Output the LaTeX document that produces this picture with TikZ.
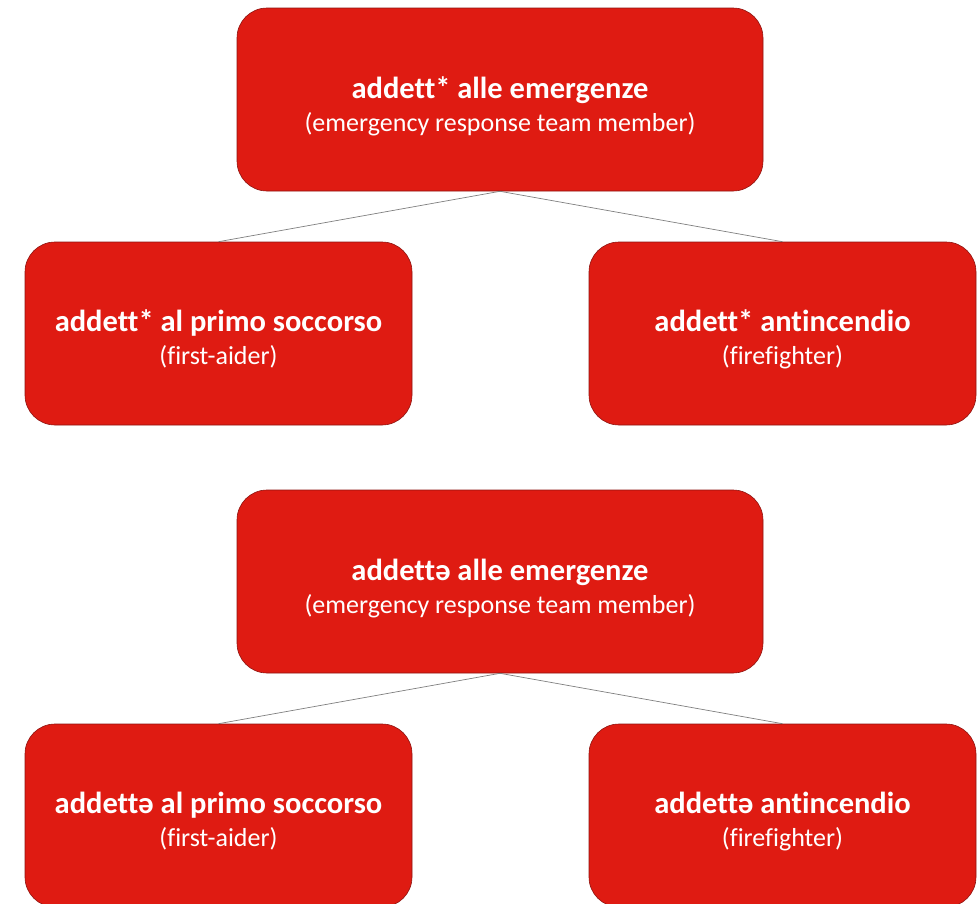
\documentclass[tikz,border=0pt]{standalone}
\usepackage{fontspec}
\setmainfont{Carlito}[Ligatures=CommonOff]
\definecolor{boxred}{HTML}{DF1B12}
\definecolor{boxedge}{HTML}{8E1410}
\definecolor{linkgray}{HTML}{7F7F7F}
\begin{document}
\begin{tikzpicture}[x=1pt,y=-1pt,
  rolebox/.style={draw=boxedge, line width=0.6pt, fill=boxred, rounded corners=30pt,
    inner sep=0pt, minimum height=183pt},
  wide/.style={minimum width=526pt},
  narrow/.style={minimum width=387pt},
  title/.style={text=white, inner sep=0pt, anchor=base, font=\fontsize{30.5}{30}\selectfont\bfseries},
  sub/.style={text=white, inner sep=0pt, anchor=base, font=\fontsize{26}{26}\selectfont},
  link/.style={draw=linkgray, line width=0.7pt}]
\useasboundingbox (0,0) rectangle (980,903);
\begin{scope}
\clip (0,0) rectangle (980,903);
% upper group
\node[rolebox, wide] (t1) at (500,99.5) {};
\node[title] (t1a) at ([yshift=1.5pt]t1.center) {addett* alle emergenze};
\node[sub] (t1b) at ([yshift=-32pt]t1.center) {(emergency response team member)};
\node[rolebox, narrow] (l1) at (218.5,333.5) {};
\node[title] (l1a) at ([yshift=2pt]l1.center) {addett* al primo soccorso};
\node[sub] (l1b) at ([yshift=-30.5pt]l1.center) {(first-aider)};
\node[rolebox, narrow] (r1) at (782.5,333.5) {};
\node[title] (r1a) at ([yshift=2pt]r1.center) {addett* antincendio};
\node[sub] (r1b) at ([yshift=-30.5pt]r1.center) {(firefighter)};
\draw[link] (t1.south) -- (l1.north);
\draw[link] (t1.south) -- (r1.north);
% lower group
\node[rolebox, wide] (t2) at (500,581.5) {};
\node[title] (t2a) at ([yshift=1.5pt]t2.center) {addettə alle emergenze};
\node[sub] (t2b) at ([yshift=-32pt]t2.center) {(emergency response team member)};
\node[rolebox, narrow] (l2) at (218.5,815.5) {};
\node[title] (l2a) at ([yshift=2pt]l2.center) {addettə al primo soccorso};
\node[sub] (l2b) at ([yshift=-30.5pt]l2.center) {(first-aider)};
\node[rolebox, narrow] (r2) at (782.5,815.5) {};
\node[title] (r2a) at ([yshift=2pt]r2.center) {addettə antincendio};
\node[sub] (r2b) at ([yshift=-30.5pt]r2.center) {(firefighter)};
\draw[link] (t2.south) -- (l2.north);
\draw[link] (t2.south) -- (r2.north);
\end{scope}
\end{tikzpicture}
\end{document}
